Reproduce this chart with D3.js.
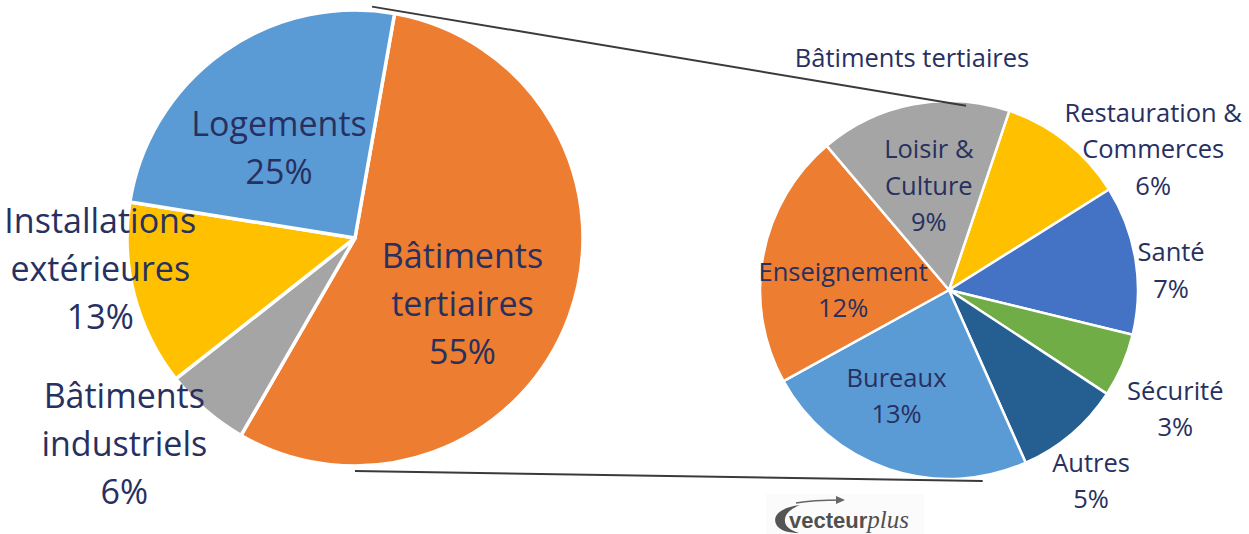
<!DOCTYPE html>
<html>
<head>
<meta charset="utf-8">
<script src="https://cdn.jsdelivr.net/npm/d3@7"></script>
<style>
  html, body { margin: 0; padding: 0; background: #fff; }
  svg text { font-family: "Open Sans", "Noto Sans", sans-serif; fill: #27305f; }
</style>
</head>
<body>
<script>
// data
var mainLabels = [["Bâtiments", "tertiaires"], ["Bâtiments", "industriels"], ["Installations", "extérieures"], ["Logements"]];
var mainValues = [55, 6, 13, 25];
var detailTitle = "Bâtiments tertiaires";
var detailLabels = [["Restauration &", "Commerces"], ["Santé"], ["Sécurité"], ["Autres"], ["Bureaux"], ["Enseignement"], ["Loisir &", "Culture"]];
var detailValues = [6, 7, 3, 5, 13, 12, 9];

// styles
var mainColors = ["#ed7d31", "#a5a5a5", "#ffc000", "#5b9bd5"];
var detailColors = ["#ffc000", "#4472c4", "#70ad47", "#255e91", "#5b9bd5", "#ed7d31", "#a5a5a5"];

// label placement: angle shift from slice middle (deg) and radius factor
var mainPlace = [[11, 0.55], [7.4, 1.355], [7.8, 1.125], [-4.4, 0.52]];
var detailPlace = [[17, 1.315], [4, 1.18], [4, 1.35], [3.5, 1.255], [8, 0.62], [-10, 0.56], [0, 0.566]];

var W = 1249, H = 534;
var rad = Math.PI / 180;

var svg = d3.select("body").append("svg")
    .attr("width", W)
    .attr("height", H);

var left = {cx: 355, cy: 238, r: 228, start: 10},
    right = {cx: 949, cy: 290, r: 189, start: 18.6};

function polar(c, deg, dist) {
  return [c.cx + dist * Math.sin(deg * rad), c.cy - dist * Math.cos(deg * rad)];
}

function drawPie(c, values, colors, labels, place, fs, lh, strokeW) {
  var pie = d3.pie().sort(null)
      .startAngle(c.start * rad)
      .endAngle(c.start * rad + 2 * Math.PI);
  var arcs = pie(values);
  var arc = d3.arc().innerRadius(0).outerRadius(c.r);

  var g = svg.append("g").attr("transform", "translate(" + c.cx + "," + c.cy + ")");
  g.selectAll("path")
    .data(arcs)
    .enter().append("path")
      .attr("d", arc)
      .attr("fill", (d, i) => colors[i])
      .attr("stroke", "#fff")
      .attr("stroke-width", strokeW)
      .attr("stroke-linejoin", "round");

  arcs.forEach(function(d, i) {
    var mid = (d.startAngle + d.endAngle) / 2 / rad + place[i][0];
    var p = polar(c, mid, c.r * place[i][1]);
    var lines = labels[i].concat([d3.format(".0f")(values[i]) + "%"]);
    var t = svg.append("text")
        .attr("text-anchor", "middle")
        .attr("font-size", fs);
    lines.forEach(function(s, j) {
      t.append("tspan")
        .attr("x", p[0])
        .attr("y", p[1] + (j - (lines.length - 1) / 2) * lh)
        .attr("dominant-baseline", "central")
        .text(s);
    });
  });
}

drawPie(left, mainValues, mainColors, mainLabels, mainPlace, 34, 48, 3.5);
drawPie(right, detailValues, detailColors, detailLabels, detailPlace, 25.5, 36.5, 2.5);

// connector lines, drawn over the pies
var conn = [[polar(left, 4.2, left.r + 4), polar(right, 5.3, right.r - 4)],
            [polar(left, 180, left.r + 5), polar(right, 170, right.r + 5)]];
svg.selectAll("line.conn")
  .data(conn)
  .enter().append("line")
    .attr("class", "conn")
    .attr("x1", d => d[0][0]).attr("y1", d => d[0][1])
    .attr("x2", d => d[1][0]).attr("y2", d => d[1][1])
    .attr("stroke", "#3a3a3a")
    .attr("stroke-width", 2);

svg.append("text")
  .attr("x", 912).attr("y", 57)
  .attr("text-anchor", "middle")
  .attr("dominant-baseline", "central")
  .attr("font-size", 25.5)
  .text(detailTitle);

// logo
var logo = svg.append("g");
logo.append("rect").attr("x", 766).attr("y", 494).attr("width", 158).attr("height", 40).attr("fill", "#fbfbfb");
logo.append("path")
  .attr("d", "M800,505 C782,507 772,515 776,524 C779,531 790,533 799,533 C790,530 784,526 785,519 C786,512 793,508 800,505 Z")
  .attr("fill", "#555");
logo.append("path")
  .attr("d", "M796,503 C812,500 828,500 842,500")
  .attr("fill", "none").attr("stroke", "#666").attr("stroke-width", 1.3);
logo.append("path")
  .attr("d", "M836,496 L845,500 L836,504 Z")
  .attr("fill", "#666");
var lt = logo.append("text").attr("x", 789).attr("y", 528);
lt.append("tspan")
  .style("font-family", "'Liberation Sans', Arial, sans-serif")
  .style("font-weight", "bold").style("fill", "#505050")
  .attr("font-size", 22).text("vecteur");
lt.append("tspan")
  .style("font-family", "'Liberation Serif', serif")
  .style("font-style", "italic").style("fill", "#505050")
  .attr("font-size", 25).text("plus");
</script>
</body>
</html>
